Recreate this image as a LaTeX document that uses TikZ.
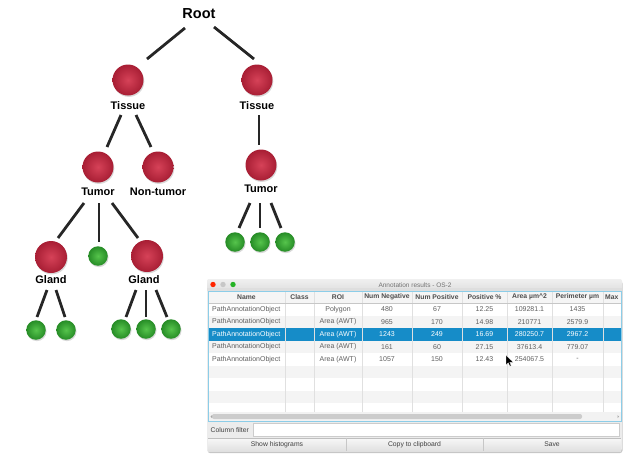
\documentclass[tikz,border=0pt]{standalone}
\usepackage{fontspec}
\setmainfont{Liberation Sans}
\usepackage{tikz}
\usetikzlibrary{calc,shadows,positioning}
\definecolor{nodered}{RGB}{214,66,88}
\definecolor{nodereddark}{RGB}{168,30,52}
\definecolor{nodegreen}{RGB}{86,196,76}
\definecolor{nodegreendark}{RGB}{38,140,38}
\definecolor{selblue}{RGB}{22,140,200}
\definecolor{tableborder}{RGB}{140,205,232}
\definecolor{wingray}{RGB}{236,236,236}
\definecolor{gridgray}{RGB}{224,224,224}
\definecolor{rowgray}{RGB}{244,244,244}
\definecolor{celltext}{RGB}{95,95,95}

\begin{document}
\begin{tikzpicture}[x=1pt,y=-1pt,
  red node/.style={circle,minimum size=31pt,inner sep=0pt,inner color=nodered,outer color=nodereddark,
    drop shadow={shadow xshift=0.8pt,shadow yshift=-1.4pt,opacity=0.3}},
  green node/.style={red node,minimum size=19.5pt,inner color=nodegreen,outer color=nodegreendark},
  lab/.style={font=\bfseries\fontsize{11}{12}\selectfont,inner sep=1pt},
  link/.style={draw=black!85,line width=2.8pt},
  cell/.style={font=\fontsize{7}{8}\selectfont,text=celltext,inner sep=0pt},
  head/.style={cell,font=\bfseries\fontsize{6.8}{8}\selectfont,text=black!70},
  selcell/.style={cell,text=white},
  btn/.style={cell,font=\fontsize{6.8}{8}\selectfont,text=black!75},
  grid/.style={draw=gridgray,line width=0.5pt}]
\useasboundingbox (0,0) rectangle (631,456);
% tree of objects
\node[font=\bfseries\fontsize{14.5}{16}\selectfont] (vRoot) at (199,14) {Root};
\node[red node] (vTisA) at (128,80) {};
\node[lab] (lTisA) at (128,106) {Tissue};
\node[red node] (vTisB) at (257,80) {};
\node[lab] (lTisB) at (257,106) {Tissue};
\node[red node] (vTumA) at (98,167) {};
\node[lab] (lTumA) at (98,192) {Tumor};
\node[red node] (vNonT) at (158,167) {};
\node[lab] (lNonT) at (158,192) {Non-tumor};
\node[red node] (vTumB) at (261,165) {};
\node[lab] (lTumB) at (261,189) {Tumor};
\node[red node,minimum size=32pt] (vGlA) at (51,257) {};
\node[lab] (lGlA) at (51,280) {Gland};
\node[green node] (vG0) at (98,256) {};
\node[red node,minimum size=32pt] (vGlB) at (147,256) {};
\node[lab] (lGlB) at (144,280) {Gland};
\node[green node] (vG1) at (36,330) {};
\node[green node] (vG2) at (66,330) {};
\node[green node] (vG3) at (121,329) {};
\node[green node] (vG4) at (146,329) {};
\node[green node] (vG5) at (171,329) {};
\node[green node] (vG6) at (235,242) {};
\node[green node] (vG7) at (260,242) {};
\node[green node] (vG8) at (285,242) {};
\begin{scope}[every path/.style={link}]
\draw ($(vRoot)+(-14,14)$) -- ($(vTisA)+(19,-21)$);
\draw ($(vRoot)+(15,13)$) -- ($(vTisB)+(-3,-21)$);
\draw ($(lTisA)+(-7,9)$) -- ($(vTumA)+(9,-20)$);
\draw ($(lTisA)+(8,9)$) -- ($(vNonT)+(-7,-20)$);
\draw ($(lTisB)+(2,9)$) -- ($(vTumB)+(-2,-20)$);
\draw ($(lTumA)+(-14,11)$) -- ($(vGlA)+(7,-19)$);
\draw ($(lTumA)+(1,11)$) -- ($(vG0)+(1,-14)$);
\draw ($(lTumA)+(14,11)$) -- ($(vGlB)+(-9,-18)$);
\draw ($(lGlA)+(-4,10)$) -- ($(vG1)+(1,-13)$);
\draw ($(lGlA)+(5,10)$) -- ($(vG2)+(-1,-13)$);
\draw ($(lGlB)+(-8,10)$) -- ($(vG3)+(5,-12)$);
\draw ($(lGlB)+(2,10)$) -- ($(vG4)+(0,-12)$);
\draw ($(lGlB)+(12,10)$) -- ($(vG5)+(-4,-12)$);
\draw ($(lTumB)+(-11,14)$) -- ($(vG6)+(4,-14)$);
\draw ($(lTumB)+(-1,14)$) -- ($(vG7)+(0,-14)$);
\draw ($(lTumB)+(10,14)$) -- ($(vG8)+(-4,-14)$);
\end{scope}
% results window
\fill[wingray,rounded corners=2.5pt,drop shadow={shadow xshift=0.5pt,shadow yshift=-2pt,opacity=0.45}] (207,279) rectangle (622,451);
\shade[top color=black!6,bottom color=black!13,rounded corners=2.5pt] (207,279) rectangle (622,292);
\fill[black!13] (207,288) rectangle (622,291);
\fill[red!70!orange] (213,284.5) circle (2.7);
\fill[black!22] (223,284.5) circle (2.7);
\fill[green!65!black!85] (233,284.5) circle (2.7);
\node[cell,font=\fontsize{6.5}{8}\selectfont,text=black!55] (title) at (415,285) {Annotation results - OS-2};
\fill[white] (208,291) rectangle (621,421);
\fill[black!4] (208,291) rectangle (621,303);
\fill[rowgray] (208,315.5) rectangle (621,328);
\fill[selblue] (208,328) rectangle (621,340.5);
\fill[rowgray] (208,340.5) rectangle (621,353);
\fill[rowgray] (208,365.5) rectangle (621,378);
\fill[rowgray] (208,390.5) rectangle (621,403);
\draw[grid] (285,291) -- (285,412);
\draw[grid] (314,291) -- (314,412);
\draw[grid] (362,291) -- (362,412);
\draw[grid] (412,291) -- (412,412);
\draw[grid] (462,291) -- (462,412);
\draw[grid] (507,291) -- (507,412);
\draw[grid] (552,291) -- (552,412);
\draw[grid] (603,291) -- (603,412);
\draw[draw=black!22,line width=0.5pt] (208,303) -- (621,303);
% scroll bar
\fill[black!5] (208,412) rectangle (621,421);
\fill[black!20,rounded corners=2pt] (212,414) rectangle (582,419);
\fill[black!35] (210.5,416.5) -- (212,415) -- (212,418) -- cycle;
\fill[black!35] (619,416.5) -- (617.5,415) -- (617.5,418) -- cycle;
\draw[tableborder,line width=0.9pt] (208,291) rectangle (621,421);
% headers
\node[head] (h1) at (246.5,297) {Name};
\node[head] (h2) at (299.5,297) {Class};
\node[head] (h3) at (338,297) {ROI};
\node[head] (h4) at (387,297) {Num Negative};
\node[head] (h5) at (437,297) {Num Positive};
\node[head] (h6) at (484.5,297) {Positive \%};
\node[head] (h7) at (529.5,297) {Area µm\^{}2};
\node[head] (h8) at (577.5,297) {Perimeter µm};
\node[head,anchor=west] (h9) at (605,297) {Max};
% rows
\node[cell,anchor=west] (c11) at (212,309.3) {PathAnnotationObject};
\node[cell] (c13) at (338,309.3) {Polygon};
\node[cell] (c14) at (387,309.3) {480};
\node[cell] (c15) at (437,309.3) {67};
\node[cell] (c16) at (484.5,309.3) {12.25};
\node[cell] (c17) at (529.5,309.3) {109281.1};
\node[cell] (c18) at (577.5,309.3) {1435};
\node[cell,anchor=west] (c21) at (212,321.8) {PathAnnotationObject};
\node[cell] (c23) at (338,321.8) {Area (AWT)};
\node[cell] (c24) at (387,321.8) {965};
\node[cell] (c25) at (437,321.8) {170};
\node[cell] (c26) at (484.5,321.8) {14.98};
\node[cell] (c27) at (529.5,321.8) {210771};
\node[cell] (c28) at (577.5,321.8) {2579.9};
\node[selcell,anchor=west] (c31) at (212,334.3) {PathAnnotationObject};
\node[selcell] (c33) at (338,334.3) {Area (AWT)};
\node[selcell] (c34) at (387,334.3) {1243};
\node[selcell] (c35) at (437,334.3) {249};
\node[selcell] (c36) at (484.5,334.3) {16.69};
\node[selcell] (c37) at (529.5,334.3) {280250.7};
\node[selcell] (c38) at (577.5,334.3) {2967.2};
\node[cell,anchor=west] (c41) at (212,346.8) {PathAnnotationObject};
\node[cell] (c43) at (338,346.8) {Area (AWT)};
\node[cell] (c44) at (387,346.8) {161};
\node[cell] (c45) at (437,346.8) {60};
\node[cell] (c46) at (484.5,346.8) {27.15};
\node[cell] (c47) at (529.5,346.8) {37613.4};
\node[cell] (c48) at (577.5,346.8) {779.07};
\node[cell,anchor=west] (c51) at (212,359.3) {PathAnnotationObject};
\node[cell] (c53) at (338,359.3) {Area (AWT)};
\node[cell] (c54) at (387,359.3) {1057};
\node[cell] (c55) at (437,359.3) {150};
\node[cell] (c56) at (484.5,359.3) {12.43};
\node[cell] (c57) at (529.5,359.3) {254067.5};
\node[cell] (c58) at (577.5,359.3) {-};
% mouse pointer
\filldraw[fill=black,draw=white,line width=0.3pt] (506,355) -- (506,365) -- (508.3,362.8) -- (509.8,366.2) -- (511.2,365.6) -- (509.8,362.3) -- (513,362.3) -- cycle;
% filter and buttons
\node[btn,anchor=west] (filt) at (210.5,430) {Column filter};
\draw[fill=white,draw=black!20,line width=0.5pt] (253,423) rectangle (619,436.5);
\shade[top color=black!3,bottom color=black!12] (208,438) rectangle (621,451);
\draw[black!25,line width=0.5pt] (208,438) -- (621,438);
\draw[black!22,line width=0.5pt] (346,438) -- (346,451);
\draw[black!22,line width=0.5pt] (483,438) -- (483,451);
\node[btn] (b1) at (277,444.5) {Show histograms};
\node[btn] (b2) at (414.5,444.5) {Copy to clipboard};
\node[btn] (b3) at (552,444.5) {Save};
\end{tikzpicture}
\end{document}
